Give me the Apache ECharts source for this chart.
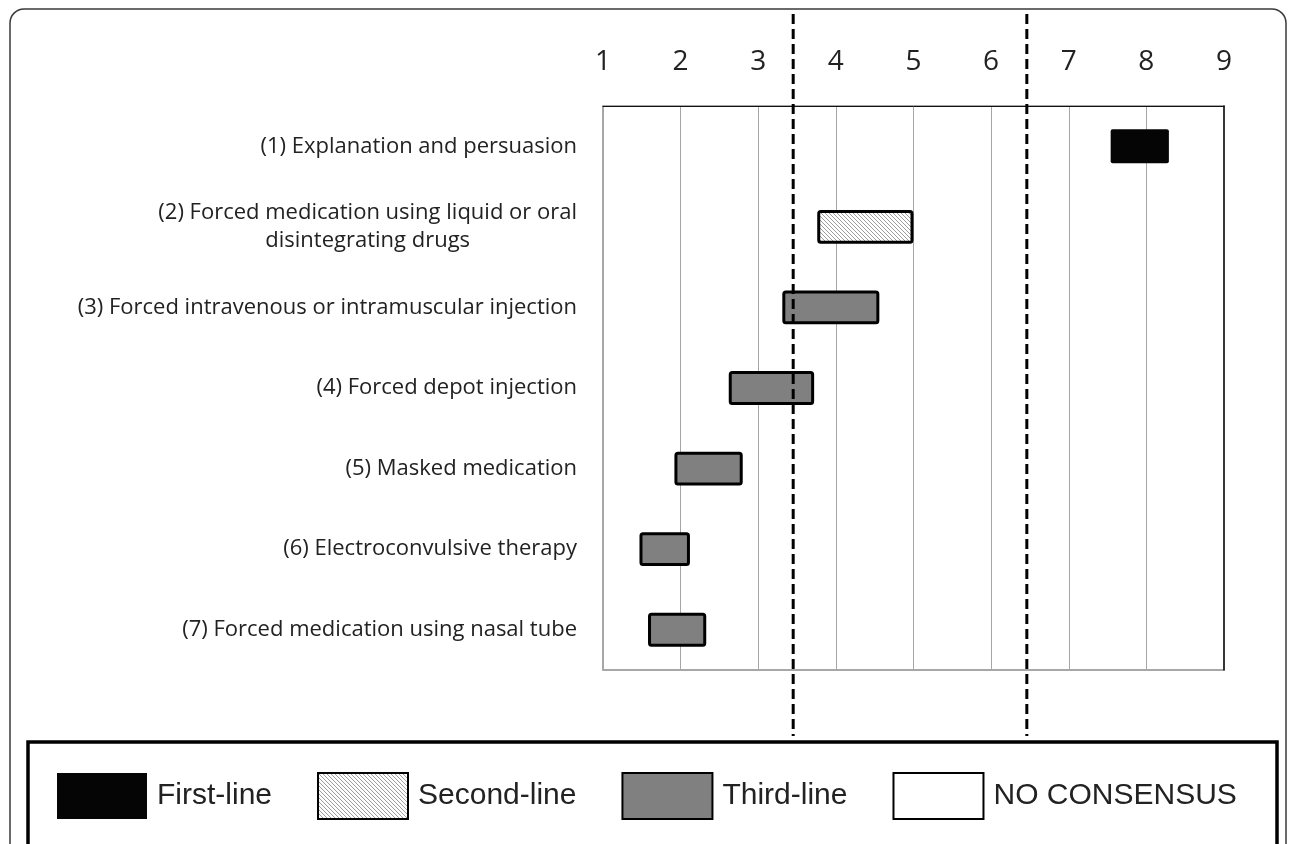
<!DOCTYPE html>
<html>
<head>
<meta charset="utf-8">
<title>Forced medication ratings</title>
<script src="https://cdn.jsdelivr.net/npm/echarts@6/dist/echarts.min.js"></script>
<style>
	html, body {
		margin: 0;
		padding: 0;
		background: #fff;
	}

	#statistics {
		width: 1292px;
		height: 844px;
	}
</style>
</head>
<body>
<div id="statistics"></div>
<script>
	// 选项（自上而下）
	var categories = [
		'(1) Explanation and persuasion',
		'(2) Forced medication using liquid or oral\ndisintegrating drugs',
		'(3) Forced intravenous or intramuscular injection',
		'(4) Forced depot injection',
		'(5) Masked medication',
		'(6) Electroconvulsive therapy',
		'(7) Forced medication using nasal tube'
	];
	var lineNames = ['First-line', 'Second-line', 'Third-line', 'NO CONSENSUS'];
	// 区间起止值，和所属分级（lineNames 下标）
	var rangeStart = [7.54, 3.76, 3.31, 2.62, 1.92, 1.47, 1.58];
	var rangeEnd = [8.29, 5.00, 4.56, 3.72, 2.80, 2.12, 2.33];
	var rangeLine = [0, 1, 2, 2, 2, 2, 2];
	var tickLabels = [1, 2, 3, 4, 5, 6, 7, 8, 9];
	var thresholds = [3.45, 6.46];

	// 斜线填充
	var hatch = document.createElement('canvas');
	hatch.width = 4;
	hatch.height = 4;
	var hctx = hatch.getContext('2d');
	hctx.fillStyle = '#fff';
	hctx.fillRect(0, 0, 4, 4);
	hctx.strokeStyle = '#9a9a9a';
	hctx.lineWidth = 1;
	hctx.beginPath();
	hctx.moveTo(-1, -1);
	hctx.lineTo(5, 5);
	hctx.stroke();

	var lineStyles = [
		{color: '#050505', borderColor: '#050505', borderWidth: 0},
		{color: {image: hatch, repeat: 'repeat'}, borderColor: '#000', borderWidth: 3},
		{color: '#808080', borderColor: '#000', borderWidth: 3},
		{color: '#fff', borderColor: '#000', borderWidth: 3}
	];

	function seriesData(k) {
		var out = [];
		for (var i = 0; i < categories.length; i++) {
			if (rangeLine[i] === k) {
				out.push([rangeStart[i], rangeEnd[i], i]);
			}
		}
		return out;
	}

	function renderRange(params, api) {
		var idx = api.value(2);
		var a = api.coord([api.value(0), idx]);
		var b = api.coord([api.value(1), idx]);
		var h = api.size([0, 1])[1] * 0.42;
		var style = api.style();
		var bw = style.lineWidth || 0;
		if (!style.stroke || bw === 0) {
			style.stroke = null;
			bw = 0;
		}
		return {
			type: 'rect',
			shape: {
				x: a[0] + bw / 2,
				y: a[1] - h / 2 + bw / 2,
				width: b[0] - a[0] - bw,
				height: h - bw,
				r: 2
			},
			style: style
		};
	}

	var series = [];
	for (var k = 0; k < lineNames.length; k++) {
		series.push({
			name: lineNames[k],
			type: 'custom',
			renderItem: renderRange,
			encode: {x: [0, 1], y: 2},
			itemStyle: lineStyles[k],
			data: seriesData(k)
		});
	}

	var myChart = echarts.init(document.getElementById('statistics'));
	option = {
		animation: false,
		grid: {
			left: 603,
			right: 68,
			top: 106,
			bottom: 174,
			show: true,
			borderColor: '#8a8a8a',
			borderWidth: 1.5
		},
		legend: {
			left: 57,
			top: 772,
			padding: 0,
			itemWidth: 90,
			itemHeight: 46,
			itemGap: 45,
			icon: 'rect',
			selectedMode: false,
			textStyle: {
				fontFamily: 'Liberation Sans',
				fontSize: 30,
				color: '#222',
				padding: [0, 0, 0, 5]
			},
			data: lineNames
		},
		xAxis: {
			type: 'value',
			position: 'top',
			min: tickLabels[0],
			max: tickLabels[tickLabels.length - 1],
			interval: 1,
			axisLine: {show: true, lineStyle: {color: '#111', width: 1}},
			axisTick: {show: false},
			axisLabel: {
				margin: 30,
				fontFamily: 'Open Sans',
				fontSize: 28,
				color: '#222'
			},
			splitLine: {show: true, lineStyle: {color: '#a6a6a6', width: 1}}
		},
		yAxis: [
			{
				type: 'category',
				inverse: true,
				data: categories,
				axisLine: {show: false},
				axisTick: {show: false},
				splitLine: {show: false},
				axisLabel: {
					margin: 26,
					fontFamily: 'Open Sans',
					fontSize: 22,
					color: '#222',
					lineHeight: 28,
					formatter: function (value) {
						var parts = value.split('\n');
						if (parts.length < 2) {
							return value;
						}
						return '{a|' + parts[0] + '}\n{b|' + parts[1] + '}';
					},
					rich: {
						a: {fontFamily: 'Open Sans', fontSize: 22, color: '#222', lineHeight: 28},
						b: {fontFamily: 'Open Sans', fontSize: 22, color: '#222', lineHeight: 28, align: 'center'}
					}
				}
			},
			{
				type: 'category',
				inverse: true,
				position: 'right',
				data: categories,
				axisLine: {show: true, lineStyle: {color: '#111', width: 1.5}},
				axisTick: {show: false},
				axisLabel: {show: false}
			}
		],
		series: series
	};

	myChart.setOption(option);

	// 外框、图例框和分界虚线
	var graphics = [
		{
			type: 'rect',
			silent: true,
			shape: {x: 10, y: 9, width: 1276, height: 900, r: 14},
			style: {fill: 'none', stroke: '#3a3a3a', lineWidth: 1.5}
		},
		{
			type: 'rect',
			silent: true,
			shape: {x: 28, y: 742, width: 1249, height: 200},
			style: {fill: 'none', stroke: '#000', lineWidth: 3.5}
		}
	];
	for (var t = 0; t < thresholds.length; t++) {
		var px = myChart.convertToPixel({xAxisIndex: 0}, thresholds[t]);
		graphics.push({
			type: 'line',
			silent: true,
			z: 10,
			shape: {x1: px, y1: 14, x2: px, y2: 736},
			style: {stroke: '#000', lineWidth: 3, lineDash: [10, 5]}
		});
	}
	myChart.setOption({graphic: graphics});
</script>
</body>
</html>
